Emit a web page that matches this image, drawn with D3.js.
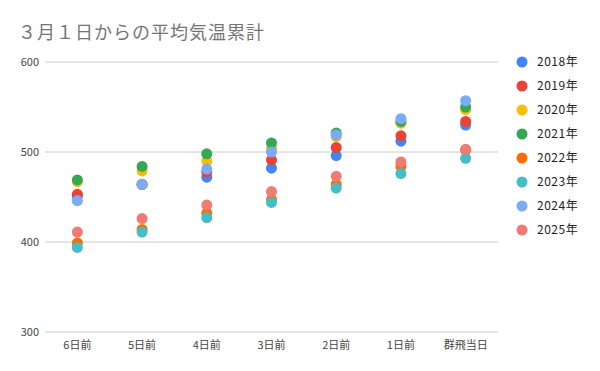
<!DOCTYPE html>
<html>
<head>
<meta charset="utf-8">
<script src="https://cdn.jsdelivr.net/npm/d3@7"></script>
<style>
  body { margin: 0; background: #fff; }
  svg { display: block; font-family: "Noto Sans CJK JP", Roboto, sans-serif; }
</style>
</head>
<body>
<svg id="chart" width="600" height="371"></svg>
<script>
// categories (x axis)
var days = ["6日前", "5日前", "4日前", "3日前", "2日前", "1日前", "群飛当日"];
var years = ["2018年", "2019年", "2020年", "2021年", "2022年", "2023年", "2024年", "2025年"];
var colors = ["#4285F4", "#EA4335", "#FBBC04", "#34A853", "#FF6D01", "#46BDC6", "#7BAAF7", "#F07B72"];
var yTicks = [300, 400, 500, 600];

// series values, one per year
var v2018 = [451, 464, 472, 482, 496, 512, 530];
var v2019 = [453, 464, 478, 491, 505, 518, 534];
var v2020 = [467, 479, 490, 504, 517, 532, 547];
var v2021 = [469, 484, 498, 510, 521, 534, 550];
var v2022 = [399, 414, 432, 447, 464, 484, 502];
var v2023 = [394, 411, 427, 444, 460, 476, 493];
var v2024 = [446, 464, 481, 500, 519, 537, 557];
var v2025 = [411, 426, 441, 456, 473, 489, 503];
var series = [v2018, v2019, v2020, v2021, v2022, v2023, v2024, v2025];

var svg = d3.select("#chart");

// title
svg.append("text")
    .attr("x", 18).attr("y", 39)
    .attr("font-size", 18)
    .attr("letter-spacing", 1)
    .attr("fill", "#757575")
    .text("３月１日からの平均気温累計");

var x = d3.scalePoint().domain(days).range([45, 498]).padding(0.5);
var y = d3.scaleLinear().domain([300, 600]).range([332, 62]);

// grid lines
svg.append("g").selectAll("line")
    .data(yTicks)
    .enter().append("line")
    .attr("x1", 45).attr("x2", 498)
    .attr("y1", function (d) { return y(d); })
    .attr("y2", function (d) { return y(d); })
    .attr("stroke", "#cccccc")
    .attr("stroke-width", 1);

// y labels
svg.append("g").selectAll("text")
    .data(yTicks)
    .enter().append("text")
    .attr("x", 39)
    .attr("y", function (d) { return y(d) + 4; })
    .attr("text-anchor", "end")
    .attr("font-size", 11)
    .attr("fill", "#444")
    .text(function (d) { return d; });

// x labels
svg.append("g").selectAll("text")
    .data(days)
    .enter().append("text")
    .attr("x", function (d) { return x(d); })
    .attr("y", 349)
    .attr("text-anchor", "middle")
    .attr("font-size", 11)
    .attr("fill", "#444")
    .text(function (d) { return d; });

// points
series.forEach(function (vals, i) {
    svg.append("g").selectAll("circle")
        .data(vals)
        .enter().append("circle")
        .attr("cx", function (d, j) { return x(days[j]); })
        .attr("cy", function (d) { return y(d); })
        .attr("r", 5.5)
        .attr("fill", colors[i]);
});

// legend
var legend = svg.append("g");
years.forEach(function (name, i) {
    var ly = 62 + i * 24;
    legend.append("circle")
        .attr("cx", 522).attr("cy", ly)
        .attr("r", 5.5)
        .attr("fill", colors[i]);
    legend.append("text")
        .attr("x", 537).attr("y", ly + 4)
        .attr("font-size", 12)
        .attr("letter-spacing", 0.5)
        .attr("fill", "#222")
        .text(name);
});
</script>
</body>
</html>
